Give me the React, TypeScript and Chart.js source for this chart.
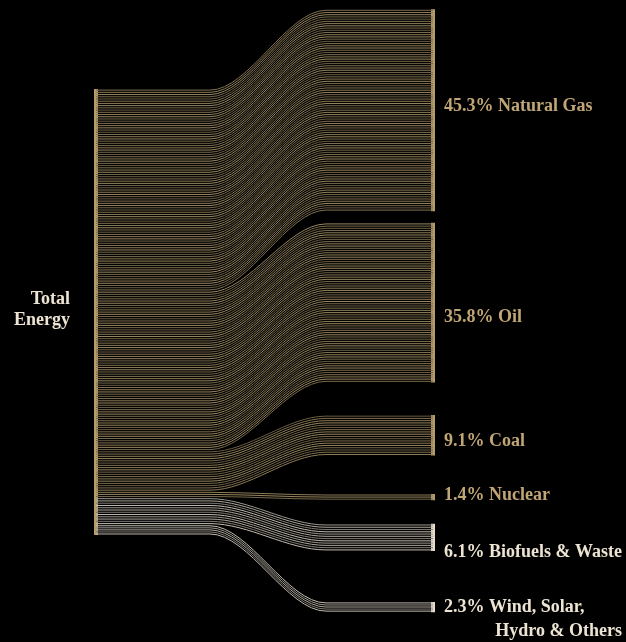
import React, { useEffect, useRef } from "react";
import { Chart, registerables } from "chart.js";

Chart.register(...registerables);

// ---- data ----
const categories = ["Natural Gas", "Oil", "Coal", "Nuclear", "Biofuels & Waste", "Wind, Solar, Hydro & Others"];
const shares = [45.3, 35.8, 9.1, 1.4, 6.1, 2.3];
const strandCounts = [91, 72, 18, 3, 12, 5];
const labelLines = [
  ["45.3% Natural Gas"],
  ["35.8% Oil"],
  ["9.1% Coal"],
  ["1.4% Nuclear"],
  ["6.1% Biofuels & Waste"],
  ["2.3% Wind, Solar,", "Hydro & Others"],
];
const sourceLabel = ["Total", "Energy"];
const lightCategories = [false, false, false, false, true, true];

// ---- layout (data units along the y scale; 0..100 = left node) ----
const rightTops = [-17.9, 30.0, 73.1, 90.8, 97.5, 115.0];
const labelY = [4.0, 51.1, 78.9, 91.0, 103.9, 116.3];
const lineGap = 5.4;
const sourceLabelY = [47.2, 51.9];
const X_LEFT = 96;
const X_BEND_A = 210;
const X_BEND_B = 326;
const X_RIGHT = 433;
const LABEL_X = 444;

const GOLD_STRANDS = ["#807050", "#98865f", "#695d43", "#8c7b56", "#76684a"];
const LIGHT_STRANDS = ["#9a978f", "#c2bbae", "#7e7b75", "#aca69b"];
const GOLD_BAR = "#b39b6c";
const LIGHT_BAR = "#e6dcc9";
const GOLD_TEXT = "#c0a575";
const LIGHT_TEXT = "#ede4d3";

export default function App() {
  const ref = useRef<HTMLCanvasElement | null>(null);

  useEffect(() => {
    if (!ref.current) return;
    const datasets: any[] = [];
    let cum = 0;
    shares.forEach((s, ci) => {
      const n = strandCounts[ci];
      const step = s / n;
      const palette = lightCategories[ci] ? LIGHT_STRANDS : GOLD_STRANDS;
      for (let i = 0; i < n; i++) {
        const yl = cum + (i + 0.5) * step;
        const yr = rightTops[ci] + (i + 0.5) * step;
        datasets.push({
          data: [
            { x: X_LEFT, y: yl },
            { x: X_BEND_A, y: yl },
            { x: X_BEND_B, y: yr },
            { x: X_RIGHT, y: yr },
          ],
          borderColor: palette[(i * 3 + ci) % palette.length],
          borderWidth: 1,
          pointRadius: 0,
          cubicInterpolationMode: "monotone",
          fill: false,
        });
      }
      // right node bar
      datasets.push({
        data: [
          { x: X_RIGHT, y: rightTops[ci] },
          { x: X_RIGHT, y: rightTops[ci] + s },
        ],
        borderColor: lightCategories[ci] ? LIGHT_BAR : GOLD_BAR,
        borderWidth: 4,
        borderCapStyle: "butt",
        pointRadius: 0,
        fill: false,
      });
      cum += s;
    });
    // left node bar
    datasets.push({
      data: [
        { x: X_LEFT, y: 0 },
        { x: X_LEFT, y: cum },
      ],
      borderColor: GOLD_BAR,
      borderWidth: 4,
      borderCapStyle: "butt",
      pointRadius: 0,
      fill: false,
    });

    const labelPlugin = {
      id: "labels",
      afterDraw(chart: any) {
        const { ctx, scales } = chart;
        const xs = scales.x;
        const ys = scales.y;
        ctx.save();
        ctx.font = "bold 18px 'Liberation Serif', 'DejaVu Serif', serif";
        ctx.textBaseline = "middle";
        categories.forEach((_c, ci) => {
          ctx.fillStyle = lightCategories[ci] ? LIGHT_TEXT : GOLD_TEXT;
          labelLines[ci].forEach((t, li) => {
            const y = ys.getPixelForValue(labelY[ci] + li * lineGap);
            if (li === 0) {
              ctx.textAlign = "left";
              ctx.fillText(t, xs.getPixelForValue(LABEL_X), y);
            } else {
              ctx.textAlign = "right";
              ctx.fillText(t, xs.getPixelForValue(622), y);
            }
          });
        });
        ctx.fillStyle = LIGHT_TEXT;
        ctx.textAlign = "right";
        sourceLabel.forEach((t, i) => {
          ctx.fillText(t, xs.getPixelForValue(70), ys.getPixelForValue(sourceLabelY[i]));
        });
        ctx.restore();
      },
    };

    const chart = new Chart(ref.current, {
      type: "line",
      data: { datasets },
      options: {
        animation: false,
        responsive: false,
        devicePixelRatio: 1,
        parsing: false,
        normalized: true,
        layout: { padding: 0 },
        plugins: { legend: { display: false }, tooltip: { enabled: false } },
        scales: {
          x: { type: "linear", min: 0, max: 626, display: false },
          y: { type: "linear", min: -89 / 4.46, max: (642 - 89) / 4.46, reverse: true, display: false },
        },
      } as any,
      plugins: [labelPlugin],
    });
    return () => chart.destroy();
  }, []);

  return (
    <div style={{ position: "fixed", left: 0, top: 0, width: 626, height: 642, background: "#000" }}>
      <canvas ref={ref} width={626} height={642} style={{ display: "block" }} />
    </div>
  );
}
